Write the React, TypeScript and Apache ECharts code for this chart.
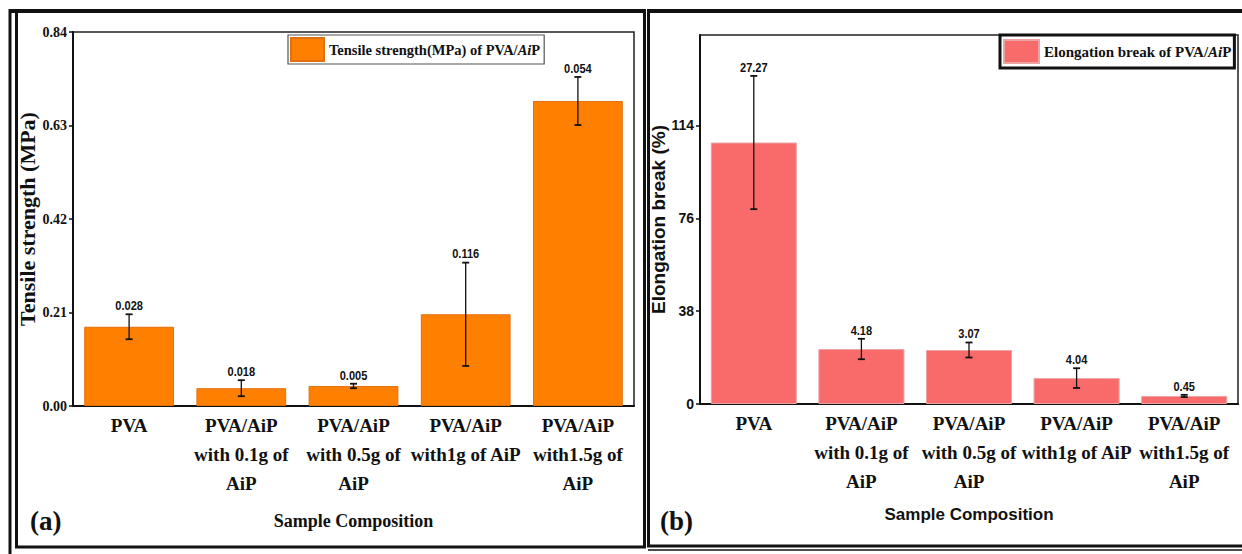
import React, { useEffect, useRef } from "react";
import * as echarts from "echarts";

const categories = [
  "PVA",
  "PVA/AiP\nwith 0.1g of\nAiP",
  "PVA/AiP\nwith 0.5g of\nAiP",
  "PVA/AiP\nwith1g of AiP",
  "PVA/AiP\nwith1.5g of\nAiP",
];
const tensileName = "Tensile strength(MPa) of PVA/AiP";
const tensile = [0.178, 0.04, 0.045, 0.206, 0.685];
const tensileErr = [0.028, 0.018, 0.005, 0.116, 0.054];
const tensileErrLabels = ["0.028", "0.018", "0.005", "0.116", "0.054"];
const elongName = "Elongation break of PVA/AiP";
const elong = [107, 22.5, 22.1, 10.6, 3.3];
const elongErr = [27.27, 4.18, 3.07, 4.04, 0.45];
const elongErrLabels = ["27.27", "4.18", "3.07", "4.04", "0.45"];
const tensileAxis = { min: 0, max: 0.84, interval: 0.21 };
const elongAxis = { min: 0, max: 151, interval: 38 };

const SERIF = "Liberation Serif";
const SANS = "Liberation Sans";

function errSeries(vals: number[], errs: number[], labels: string[], idx: number) {
  return {
    type: "custom",
    xAxisIndex: idx,
    yAxisIndex: idx,
    z: 5,
    silent: true,
    data: vals.map((v, i) => [i, v, errs[i]]),
    renderItem: (params: any, api: any) => {
      const x = api.value(0);
      const v = api.value(1);
      const e = api.value(2);
      const top = api.coord([x, v + e]);
      const bot = api.coord([x, v - e]);
      const cx = top[0];
      const cap = 3.5;
      const st = { stroke: "#111", lineWidth: 1.3 };
      return {
        type: "group",
        children: [
          { type: "line", shape: { x1: cx, y1: top[1], x2: cx, y2: bot[1] }, style: st },
          { type: "line", shape: { x1: cx - cap, y1: top[1], x2: cx + cap, y2: top[1] }, style: { stroke: "#111", lineWidth: 1.8 } },
          { type: "line", shape: { x1: cx - cap, y1: bot[1], x2: cx + cap, y2: bot[1] }, style: { stroke: "#111", lineWidth: 1.8 } },
          {
            type: "text",
            x: cx,
            y: top[1] - 2,
            scaleX: 0.85,
            style: {
              text: labels[params.dataIndex],
              align: "center",
              verticalAlign: "bottom",
              fontSize: 13,
              fontWeight: "bold",
              fontFamily: SANS,
              fill: "#111",
            },
          },
        ],
      };
    },
  };
}

export default function App() {
  const ref = useRef<HTMLDivElement>(null);
  useEffect(() => {
    document.body.style.margin = "0";
    if (!ref.current) return;
    const chart = echarts.init(ref.current, undefined, { renderer: "svg" });
    const xAxisBase = (idx: number, nameGap: number, nameFont: any) => ({
      type: "category",
      gridIndex: idx,
      data: categories,
      axisLine: { lineStyle: { color: "#111", width: 2 } },
      axisTick: { alignWithLabel: true, inside: true, length: 5, lineStyle: { color: "#111", width: 1.5 } },
      axisLabel: {
        interval: 0,
        margin: 5,
        fontFamily: SERIF,
        fontWeight: "bold",
        fontSize: 19,
        lineHeight: 29,
        color: "#111",
      },
      name: "Sample Composition",
      nameLocation: "middle",
      nameGap,
      nameTextStyle: nameFont,
    });
    chart.setOption({
      animation: false,
      backgroundColor: "#fff",
      textStyle: { fontFamily: SERIF },
      grid: [
        { left: 73, top: 32, width: 561, height: 374, show: true, borderColor: "#222", borderWidth: 1.5, backgroundColor: "transparent" },
        { left: 700, top: 35, width: 538, height: 369, show: true, borderColor: "#222", borderWidth: 1.5, backgroundColor: "transparent" },
      ],
      xAxis: [
        xAxisBase(0, 106, { fontFamily: SERIF, fontWeight: "bold", fontSize: 18, color: "#111" }),
        xAxisBase(1, 102, { fontFamily: SANS, fontWeight: "bold", fontSize: 17, color: "#111" }),
      ],
      yAxis: [
        {
          type: "value",
          gridIndex: 0,
          ...tensileAxis,
          splitLine: { show: false },
          axisLine: { show: true, lineStyle: { color: "#111", width: 2 } },
          axisTick: { show: true, length: 4, lineStyle: { color: "#111", width: 1.5 } },
          axisLabel: {
            margin: 6,
            formatter: (v: number) => v.toFixed(2),
            fontFamily: SERIF,
            fontWeight: "bold",
            fontSize: 14,
            color: "#111",
          },
          name: "Tensile strength (MPa)",
          nameLocation: "middle",
          nameGap: 26,
          nameTextStyle: { fontFamily: SERIF, fontWeight: "bold", fontSize: 22, color: "#111" },
        },
        {
          type: "value",
          gridIndex: 1,
          ...elongAxis,
          splitLine: { show: false },
          axisLine: { show: true, lineStyle: { color: "#111", width: 2 } },
          axisTick: { show: true, length: 4, lineStyle: { color: "#111", width: 1.5 } },
          axisLabel: {
            margin: 6,
            showMaxLabel: false,
            fontFamily: SANS,
            fontWeight: "bold",
            fontSize: 14,
            color: "#111",
          },
          name: "Elongation break (%)",
          nameLocation: "middle",
          nameGap: 29,
          nameTextStyle: { fontFamily: SANS, fontWeight: "bold", fontSize: 19, color: "#111" },
        },
      ],
      legend: [
        {
          data: [tensileName],
          left: 288,
          top: 35,
          icon: "rect",
          itemWidth: 33,
          itemHeight: 23,
          padding: [2, 4, 2, 2],
          borderColor: "#555",
          borderWidth: 1.2,
          backgroundColor: "#fff",
          selectedMode: false,
          formatter: () => "{n|Tensile strength(MPa) of PVA/}{i|Ai}{n|P}",
          textStyle: {
            rich: {
              n: { fontFamily: SERIF, fontWeight: "bold", fontSize: 14.5, color: "#111" },
              i: { fontFamily: SERIF, fontWeight: "bold", fontStyle: "italic", fontSize: 14.5, color: "#111" },
            },
          },
        },
        {
          data: [elongName],
          left: 1000,
          top: 35,
          icon: "rect",
          itemWidth: 35,
          itemHeight: 23,
          padding: [4, 3, 4, 3],
          borderColor: "#111",
          borderWidth: 3,
          backgroundColor: "#fff",
          selectedMode: false,
          formatter: () => "{n|Elongation break of PVA/}{i|Ai}{n|P}",
          textStyle: {
            rich: {
              n: { fontFamily: SERIF, fontWeight: "bold", fontSize: 15, color: "#111" },
              i: { fontFamily: SERIF, fontWeight: "bold", fontStyle: "italic", fontSize: 15, color: "#111" },
            },
          },
        },
      ],
      series: [
        {
          name: tensileName,
          type: "bar",
          xAxisIndex: 0,
          yAxisIndex: 0,
          barWidth: "80%",
          data: tensile,
          itemStyle: { color: "#FF8000", borderColor: "#E07010", borderWidth: 1 },
        },
        errSeries(tensile, tensileErr, tensileErrLabels, 0),
        {
          name: elongName,
          type: "bar",
          xAxisIndex: 1,
          yAxisIndex: 1,
          barWidth: "80%",
          data: elong,
          itemStyle: { color: "#F96B6B", borderColor: "#EBA3A3", borderWidth: 1 },
        },
        errSeries(elong, elongErr, elongErrLabels, 1),
      ],
      graphic: [
        { type: "line", shape: { x1: 10, y1: 9, x2: 10, y2: 554 }, style: { stroke: "#111", lineWidth: 3 } },
        { type: "rect", shape: { x: 16.5, y: 11, width: 628, height: 536 }, style: { stroke: "#111", lineWidth: 3, fill: "none" } },
        { type: "line", shape: { x1: 9, y1: 11, x2: 646, y2: 11 }, style: { stroke: "#111", lineWidth: 4 } },
        { type: "rect", shape: { x: 648.5, y: 11, width: 600, height: 535 }, style: { stroke: "#111", lineWidth: 3, fill: "none" } },
        { type: "line", shape: { x1: 647, y1: 11, x2: 1242, y2: 11 }, style: { stroke: "#111", lineWidth: 4 } },
        { type: "line", shape: { x1: 648, y1: 550, x2: 1242, y2: 550 }, style: { stroke: "#111", lineWidth: 1.5 } },
        {
          type: "text",
          left: 30,
          top: 507,
          style: { text: "(a)", fontFamily: SERIF, fontWeight: "bold", fontSize: 27, fill: "#111" },
        },
        {
          type: "text",
          left: 660,
          top: 507,
          style: { text: "(b)", fontFamily: SERIF, fontWeight: "bold", fontSize: 27, fill: "#111" },
        },
      ],
    });
    return () => chart.dispose();
  }, []);
  return <div ref={ref} style={{ width: 1242, height: 554 }} />;
}
